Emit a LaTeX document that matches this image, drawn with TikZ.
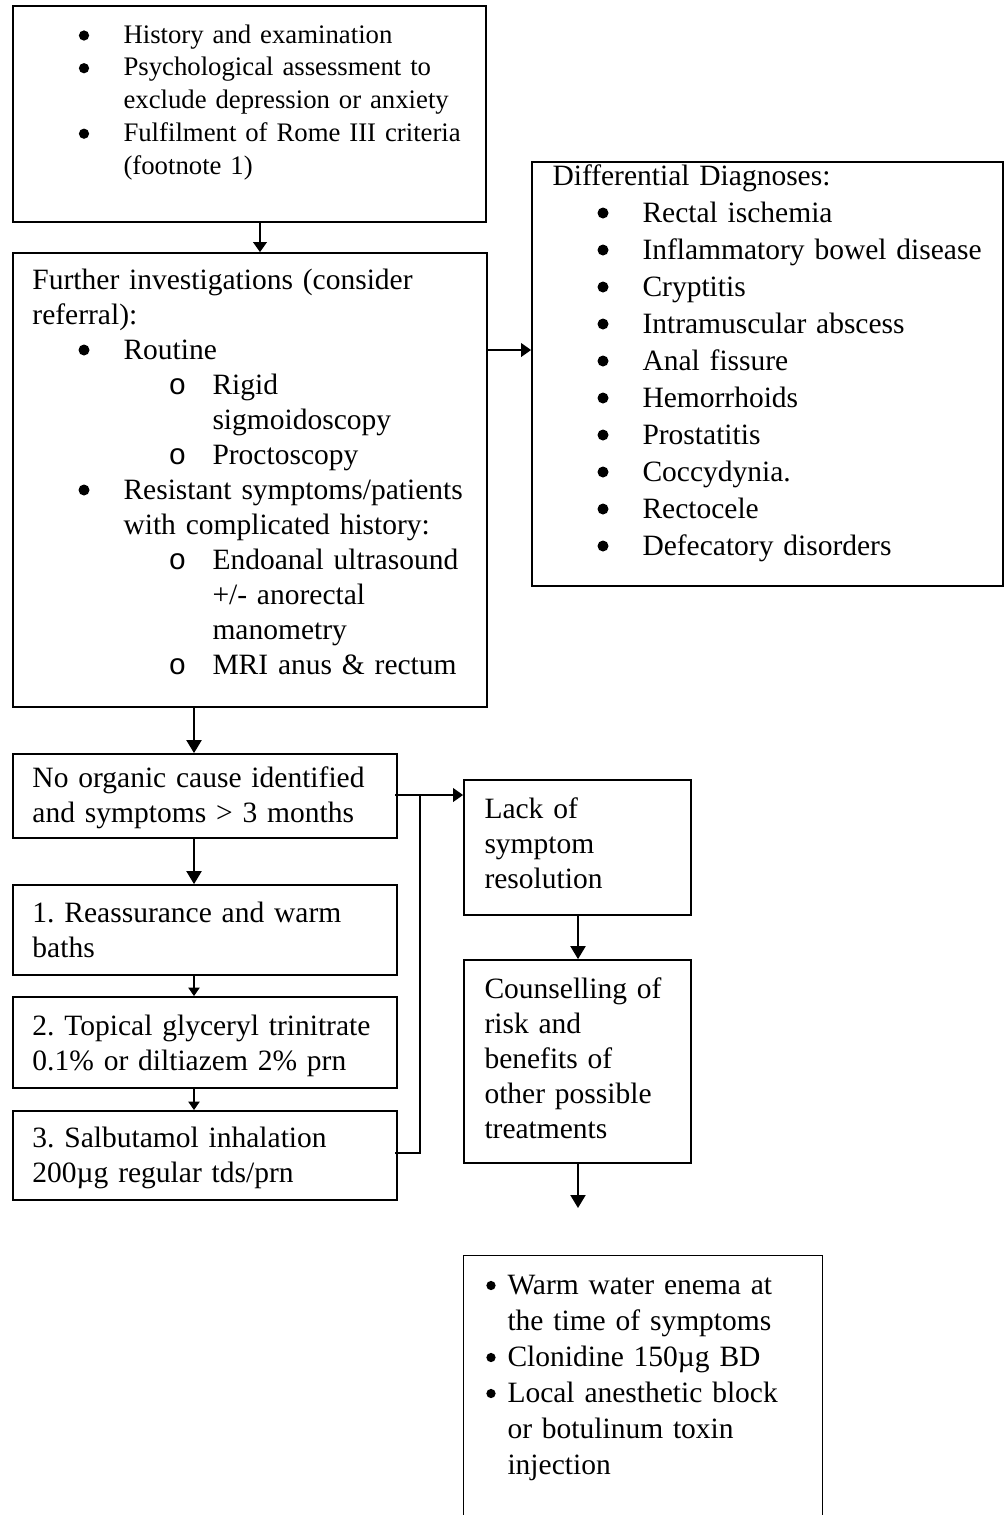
\documentclass[tikz,border=0pt]{standalone}
\usepackage{fontspec}
\setmainfont{Liberation Serif}
\newfontfamily\monof{Liberation Mono}
\usetikzlibrary{arrows.meta,fit}
\frenchspacing
\tikzset{
  boxr/.style={draw, line width=0.7pt, inner sep=0pt},
  txt/.style={anchor=base west, inner sep=0pt, text width=200pt, align=left, font=\frenchspacing\fontsize{11.8}{14}\selectfont},
  txtsmall/.style={txt, font=\frenchspacing\fontsize{10.7}{13.1}\selectfont},
  txtdiff/.style={txt, font=\frenchspacing\fontsize{11.8}{14.8}\selectfont},
  txtbot/.style={txt, font=\frenchspacing\fontsize{11.8}{14.4}\selectfont},
  conn/.style={line width=0.8pt},
  arr/.style={conn, -{Triangle[length=5.2pt,width=6pt]}},
  arrm/.style={conn, -{Triangle[length=4pt,width=5.4pt]}},
  arrs/.style={conn, -{Triangle[length=3.4pt,width=4.4pt]}},
}
\newcommand{\sub}{\makebox[17.6pt][l]{\monof o}}
\begin{document}
\begin{tikzpicture}[x=0.4pt,y=-0.4pt]
\useasboundingbox (0,0) rectangle (1005,1515);
\fill[white] (0,0) rectangle (1005,1515);

% boxes
\node[boxr, fit={(13,6) (486,222)}] (b1) {};
\node[boxr, fit={(13,253) (487,707)}] (b2) {};
\node[boxr, fit={(532,162) (1003,586)}] (dd) {};
\node[boxr, fit={(13,754) (397,838)}] (b3) {};
\node[boxr, fit={(13,885) (397,975)}] (b4) {};
\node[boxr, fit={(13,997) (397,1088)}] (b5) {};
\node[boxr, fit={(13,1111) (397,1200)}] (b6) {};
\node[boxr, fit={(464,780) (691,915)}] (lk) {};
\node[boxr, fit={(464,960) (691,1163)}] (cs) {};
\node[inner sep=0pt, fit={(464,1256) (822,1530)}] (bb) {};
\draw[line width=0.7pt] (bb.south west) -- (bb.north west) -- (bb.north east) -- (bb.south east);

% texts
\node[txtsmall] (t1) at (32,43) {\hspace*{36.4pt}History and examination\\
\hspace*{36.4pt}Psychological assessment to\\
\hspace*{36.4pt}exclude depression or anxiety\\
\hspace*{36.4pt}Fulfilment of Rome III criteria\\
\hspace*{36.4pt}(footnote 1)};

\node[txt] (t2) at (32,289) {Further investigations (consider\\
referral):\\
\hspace*{36.4pt}Routine\\
\hspace*{54.4pt}\sub Rigid\\
\hspace*{72pt}sigmoidoscopy\\
\hspace*{54.4pt}\sub Proctoscopy\\
\hspace*{36.4pt}Resistant symptoms/patients\\
\hspace*{36.4pt}with complicated history:\\
\hspace*{54.4pt}\sub Endoanal ultrasound\\
\hspace*{72pt}+/- anorectal\\
\hspace*{72pt}manometry\\
\hspace*{54.4pt}\sub MRI anus \& rectum};

\node[txtdiff] (td) at (552,185) {Differential Diagnoses:\\
\hspace*{36pt}Rectal ischemia\\
\hspace*{36pt}Inflammatory bowel disease\\
\hspace*{36pt}Cryptitis\\
\hspace*{36pt}Intramuscular abscess\\
\hspace*{36pt}Anal fissure\\
\hspace*{36pt}Hemorrhoids\\
\hspace*{36pt}Prostatitis\\
\hspace*{36pt}Coccydynia.\\
\hspace*{36pt}Rectocele\\
\hspace*{36pt}Defecatory disorders};

\node[txt] (t3) at (32,787) {No organic cause identified\\and symptoms > 3 months};
\node[txt] (t4) at (32,922) {1. Reassurance and warm\\baths};
\node[txt] (t5) at (32,1035) {2. Topical glyceryl trinitrate\\0.1\% or diltiazem 2\% prn};
\node[txt] (t6) at (32,1147) {3. Salbutamol inhalation\\200µg regular tds/prn};
\node[txt] (tl) at (484,818) {Lack of\\symptom\\resolution};
\node[txt] (tc) at (484,998) {Counselling of\\risk and\\benefits of\\other possible\\treatments};
\node[txtbot] (tb) at (484,1294) {\hspace*{9.2pt}Warm water enema at\\
\hspace*{9.2pt}the time of symptoms\\
\hspace*{9.2pt}Clonidine 150µg BD\\
\hspace*{9.2pt}Local anesthetic block\\
\hspace*{9.2pt}or botulinum toxin\\
\hspace*{9.2pt}injection};

% bullets
\foreach \y in {35.5, 68.2, 133.7} \fill (84,\y) circle[radius=2.05pt];
\foreach \y in {350, 490} \fill (84,\y) circle[radius=2.2pt];
\foreach \k in {1,...,10} \fill (603,185+37*\k-9) circle[radius=2.2pt];
\foreach \y in {1285.5, 1357.5, 1393.5} \fill (491,\y) circle[radius=1.85pt];

% connector helpers
\coordinate (xa) at (260,0);
\coordinate (xb) at (194,0);
\coordinate (xc) at (578,0);
\coordinate (yd) at (0,350);
\coordinate (ye) at (0,795);
\coordinate (yf) at (0,1153);
\coordinate (j1) at (420,795);
\coordinate (j2) at (420,1153);
\coordinate (endc) at (578,1208);

% connectors
\draw[arrm] (b1.south -| xa) -- (b2.north -| xa);
\draw[arrm] (b2.east |- yd) -- (dd.west |- yd);
\draw[arr] (b2.south -| xb) -- (b3.north -| xb);
\draw[arr] (b3.south -| xb) -- (b4.north -| xb);
\draw[arrs] (b4.south -| xb) -- (b5.north -| xb);
\draw[arrs] (b5.south -| xb) -- (b6.north -| xb);
\draw[conn] ([xshift=-1pt]b3.east |- ye) -- (j1);
\draw[arrm] ([xshift=-1pt]b6.east |- yf) -- (j2) -- (j1) -- (lk.west |- ye);
\draw[arr] (lk.south -| xc) -- (cs.north -| xc);
\draw[arr] (cs.south -| xc) -- (endc);
\end{tikzpicture}
\end{document}
